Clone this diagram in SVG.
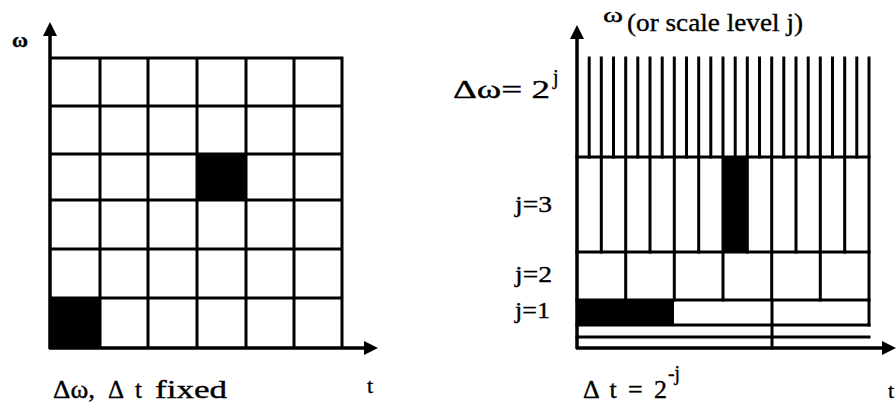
<svg xmlns="http://www.w3.org/2000/svg" width="896" height="407" viewBox="0 0 896 407">
<style>
.g{stroke:#000;stroke-width:3;fill:none;stroke-linecap:square}
.ax{stroke:#000;stroke-width:3.5;fill:none}
.t{font-family:"Liberation Serif",serif;fill:#000;stroke:#000;stroke-width:0.35}
</style>
<rect width="896" height="407" fill="#fff"/>
<g id="left-grid">
<rect x="197" y="154" width="49" height="46" fill="#000"/>
<rect x="51" y="298" width="49" height="49" fill="#000"/>
<path class="g" d="M51 58H342M51 106H342M51 154H342M51 200H342M51 249H342M51 298H342M100 58V347M148 58V347M197 58V347M246 58V347M294 58V347M342 58V347"/>
</g>
<g id="right-grid">
<rect x="723" y="157" width="24" height="95" fill="#000"/>
<rect x="577" y="300" width="97" height="25" fill="#000"/>
<path class="g" d="M589.2 58V157M601.3 58V157M613.5 58V157M625.7 58V157M637.8 58V157M650 58V157M662.2 58V157M674.3 58V157M686.5 58V157M698.7 58V157M710.8 58V157M723 58V157M735.2 58V157M747.3 58V157M759.5 58V157M771.7 58V157M783.8 58V157M796 58V157M808.2 58V157M820.3 58V157M832.5 58V157M844.7 58V157M856.8 58V157M869 58V325"/>
<path class="g" d="M577 157H869M601.3 157V252M625.7 157V252M650 157V252M674.3 157V252M698.7 157V252M723 157V252M747.3 157V252M771.7 157V252M796 157V252M820.3 157V252M844.7 157V252"/>
<path class="g" d="M577 252H869M625.7 252V300M674.3 252V300M723 252V300M771.7 252V300M820.3 252V300"/>
<path class="g" d="M577 300H869M577 325H869M577 337H869M772 300V348"/>
</g>
<g id="axes">
<path class="ax" d="M50 349V34M49 348H366"/>
<polygon points="50,22 43,36 57,36"/>
<polygon points="378,348 364,341 364,355"/>
<path class="ax" d="M577 349V37M576 348H884"/>
<polygon points="577,25 570,39 584,39"/>
<polygon points="896,348 882,341 882,355"/>
</g>
<g id="labels">
<text class="t" x="12" y="47" font-size="20" font-weight="bold" textLength="16" lengthAdjust="spacingAndGlyphs">ω</text>
<text class="t" x="53" y="398" font-size="25" textLength="42" lengthAdjust="spacingAndGlyphs">Δω,</text>
<text class="t" x="108" y="398" font-size="25" textLength="34" lengthAdjust="spacing">Δ t</text>
<text class="t" x="155" y="398" font-size="25" textLength="72" lengthAdjust="spacingAndGlyphs">fixed</text>
<text class="t" x="367" y="393" font-size="22">t</text>
<text class="t" x="603" y="22" font-size="22" textLength="20" lengthAdjust="spacingAndGlyphs">ω</text>
<text class="t" x="627" y="31" font-size="26" textLength="176" lengthAdjust="spacingAndGlyphs">(or scale level j)</text>
<text class="t" x="453" y="98" font-size="26" textLength="97" lengthAdjust="spacingAndGlyphs">Δω= 2</text>
<text class="t" x="553" y="84" font-size="20">j</text>
<text class="t" x="515" y="212" font-size="24" textLength="37" lengthAdjust="spacingAndGlyphs">j=3</text>
<text class="t" x="515" y="282" font-size="24" textLength="37" lengthAdjust="spacingAndGlyphs">j=2</text>
<text class="t" x="515" y="318" font-size="24" textLength="35" lengthAdjust="spacingAndGlyphs">j=1</text>
<text class="t" x="583" y="398" font-size="26" textLength="84" lengthAdjust="spacing">Δ t = 2</text>
<text class="t" x="668" y="380" font-size="20" textLength="12" lengthAdjust="spacingAndGlyphs">-j</text>
<text class="t" x="888" y="398" font-size="22">t</text>
</g>
</svg>
